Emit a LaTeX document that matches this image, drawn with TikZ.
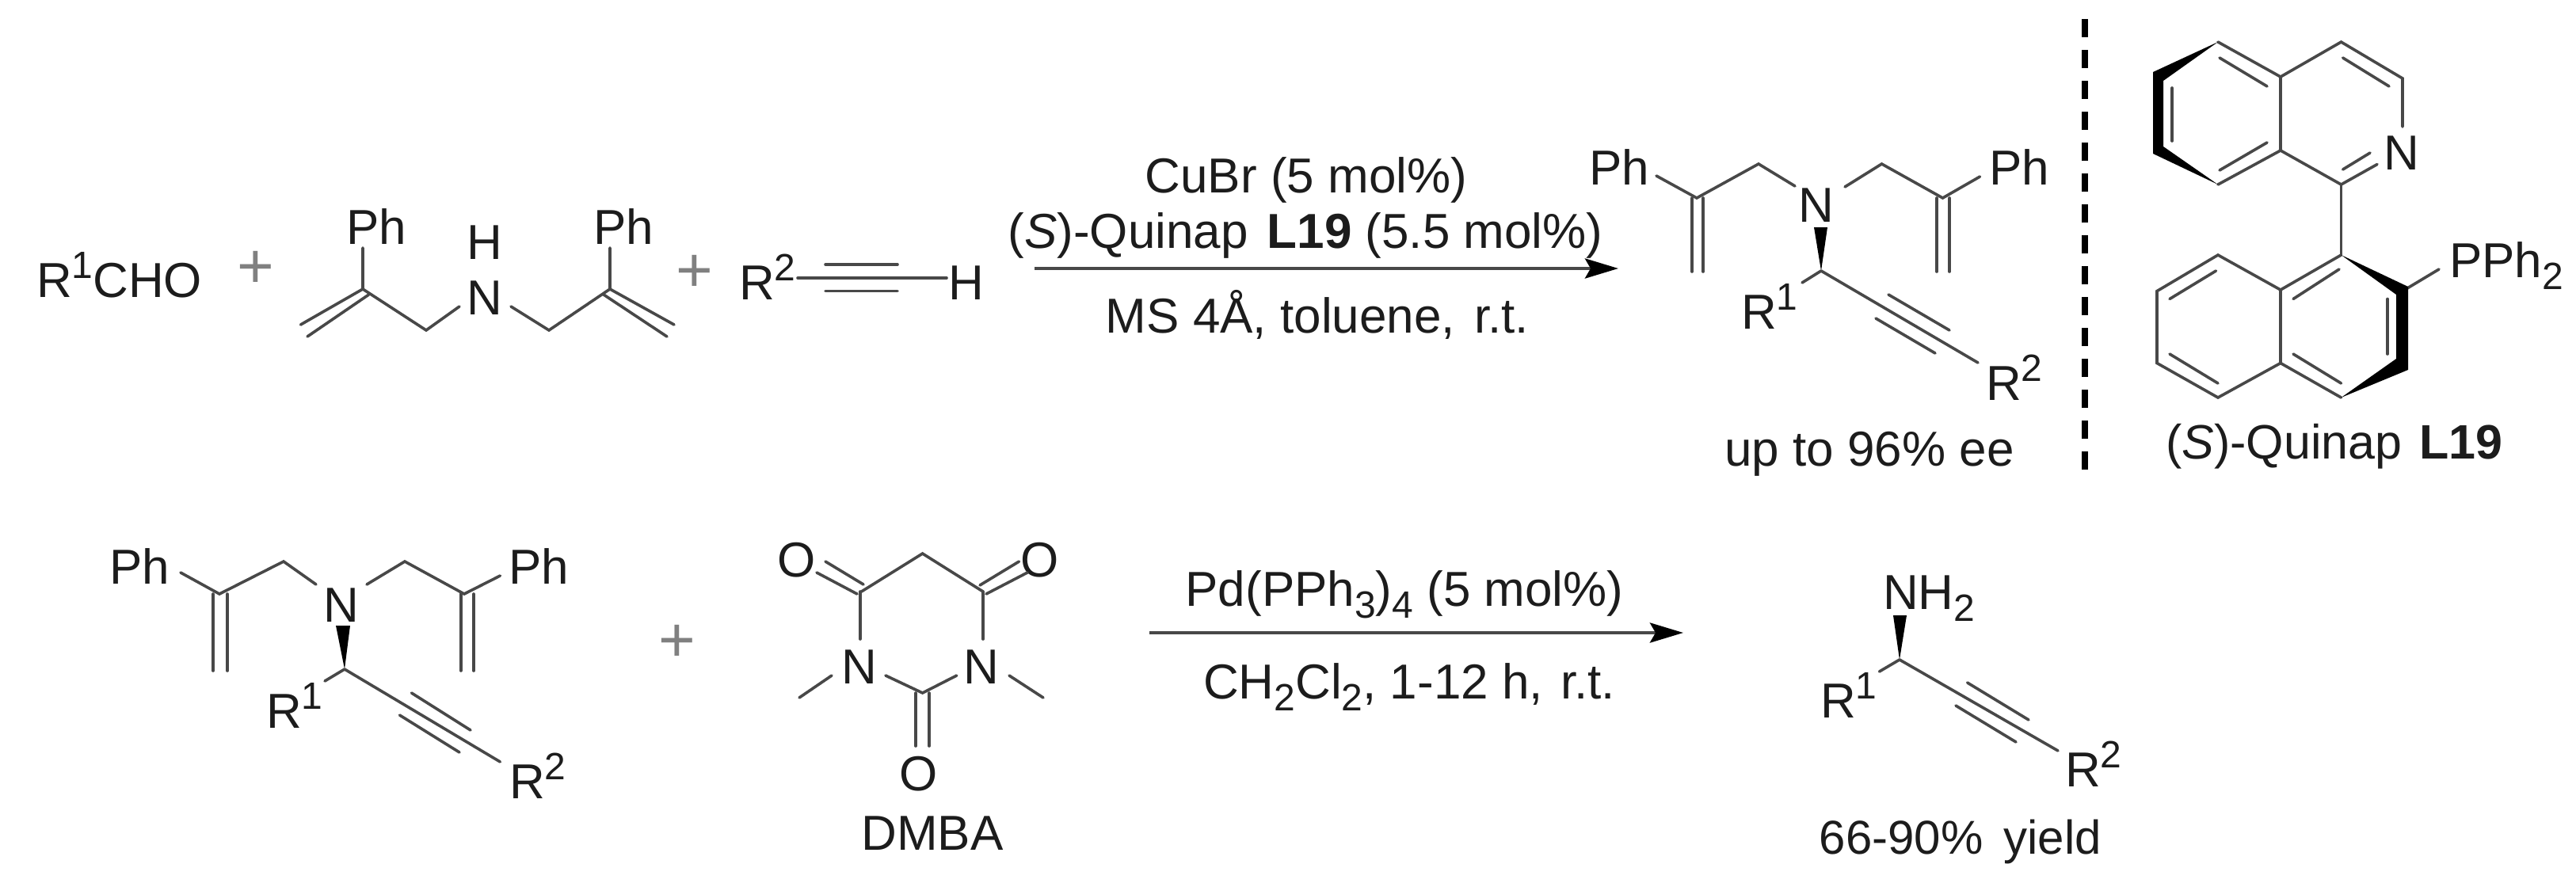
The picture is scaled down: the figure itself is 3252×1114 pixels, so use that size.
\documentclass[tikz,border=0pt]{standalone}
\usepackage{fontspec}
\setmainfont{Liberation Sans}
\usetikzlibrary{arrows.meta}
\definecolor{ink}{HTML}{1C1C1C}
\definecolor{bondc}{HTML}{484848}
\definecolor{plusc}{HTML}{808080}
\newcommand{\upa}[1]{\raisebox{24pt}{\fontsize{48}{48}\selectfont #1}}
\newcommand{\dwn}[1]{\raisebox{-15pt}{\fontsize{48}{48}\selectfont #1}}
\tikzset{
  lbl/.style={anchor=base,inner sep=0pt,outer sep=0pt,text=ink,font=\fontsize{62}{70}\selectfont},
  lblw/.style={lbl,anchor=base west},
  cond/.style={lbl,font=\fontsize{61}{70}\selectfont},
  yld/.style={lbl,font=\fontsize{60}{70}\selectfont},
  pls/.style={anchor=center,inner sep=0pt,text=plusc,font=\fontsize{80}{80}\selectfont},
  bond/.style={draw=bondc,line width=3.6pt,line cap=round,line join=miter},
  wedgefill/.style={fill=black,draw=none},
  rxn/.style={draw=bondc,line width=4.5pt,-{Stealth[length=42pt,width=25pt,inset=7pt,color=black]}},
  sep/.style={draw=black,line width=8pt,dash pattern=on 23pt off 16pt}
}
\begin{document}
\begin{tikzpicture}[x=1pt,y=-1pt]
\useasboundingbox (0,0) rectangle (3252,1114);
\fill[white] (0,0) rectangle (3252,1114);
% ---------- named points
\foreach \n/\x/\y in {
 a1/458/313,a2/458/365,a3/538/417,a4/580/387,a5/645/387,a6/693/417,a7/770/365,a8/770/313,
 a9/379.5/410,a10/465.6/372,a11/388/425,a12/851/410,a13/762/372,a14/842/425,
 t1/1007/351,t2/1195/351,t3/1042/334,t4/1133/334,t5/1042/367.5,t6/1133/367.5,
 ar1s/1306/339,ar1e/2043/339,ar2s/1451/799,ar2e/2125/799,
 b1/2091/222,b2/2142/250,b3/2220/207,b4/2266/235,b5/2329/236,b6/2375.5/207,b7/2452.5/250,b8/2499.5/223,
 b9/2136/250,b10/2136/343,b11/2150/250,b12/2150/343,b13/2445/250,b14/2445/343,b15/2461/250,b16/2461/343,
 b17/2299/342,b18/2275/357,b19/2497/458,b20/2384/372,b21/2461/417,b22/2368/402,b23/2443/446,b24/2290/287,b25/2307/287,
 sp1/2632/24,sp2/2632/597,
 q1/2800/53,q2/2879/97,q3/2879/190,q4/2800/233,q5/2721/190,q6/2721/95,q7/2955.5/53,q8/3033/99,q9/3033/160,q10/2955.5/233,q11/3001/207.5,
 q12/2957.6/214,q13/2992/193,q14/2957.6/73,q15/3016/109,q16/2802/73,q17/2862/109,q18/2802/215,q19/2862/180,q20/2742/111,q21/2742/178,
 w1/2718/91,w2/2718/194,w3/2731/185,w4/2731/102,
 r1/2955.5/322,r2/2879/366,r3/2879/458.5,r4/2955.5/502,r5/2800/322,r6/2723/367.6,r7/2723/458.5,r8/2800/502,
 r9/3039/364,r10/3079/340,r11/2797.5/342,r12/2739/377.5,r13/2739/447,r14/2800/484,r15/2953/340,r16/2895/377.5,r17/2895/447,r18/2955.5/484,r19/3014/377.5,r20/3014/447,
 v1/3040/362,v2/3040/467,v3/3025/453,v4/3025/372,
 e1/228/723,e2/277/750,e3/358/709,e4/399/738,e5/463/738,e6/511/709,e7/586/750,e8/631.4/727,
 e9/269/750,e10/269/847,e11/287/750,e12/287/847,e13/581.7/750,e14/581.7/847,e15/598/750,e16/598/847,
 e17/435/845,e18/410/860,e19/631.4/962,e20/519.5/875,e21/594/922,e22/504.5/903,e23/580/950,e24/424/790,e25/442/790,
 d1/1087.5/747,d2/1164.6/699,d3/1241/747,d4/1042/709,d5/1090/738,d6/1031/723,d7/1082/750,d8/1286.5/709,d9/1237/739,d10/1297/723,d11/1245/750,
 d12/1085.8/747,d13/1085.8/807,d14/1241/807,d15/1050/853,d16/1009/881,d17/1274/853,d18/1317/881,d19/1118/853,d20/1164.6/875,d21/1207.7/853,
 d22/1156/875,d23/1156/942,d24/1173/875,d25/1173/942,
 f1/2398/833,f2/2372.5/848,f3/2598/948,f4/2483.6/862,f5/2561/909,f6/2469/891,f7/2545/937,f8/2390/777,f9/2407/777
}{\coordinate (\n) at (\x,\y);}
% ---------- first reaction, left side
\node[lblw] (aldehyde) at (46,375) {R\upa{1}CHO};
\node[pls] (plusa) at (323,340) {+};
\node[lbl] (phone) at (475,308) {Ph};
\node[lbl] (nha) at (612,397) {N};
\node[lbl] (hhalf) at (612,327) {H};
\node[lbl] (phtwo) at (787,308) {Ph};
\draw[bond] (a1)--(a2)--(a3)--(a4);
\draw[bond] (a5)--(a6)--(a7)--(a8);
\draw[bond] (a2)--(a9);
\draw[bond] (a10)--(a11);
\draw[bond] (a7)--(a12);
\draw[bond] (a13)--(a14);
\node[pls] (plusb) at (877,345) {+};
\node[lblw] (rtwo) at (933,378) {R\upa{2}};
\draw[bond] (t1)--(t2);
\draw[bond] (t3)--(t4);
\draw[bond] (t5)--(t6);
\node[lbl] (hend) at (1219.5,378) {H};
% ---------- first arrow
\node[lbl] (cua) at (1649,243) {CuBr (5 mol\%)};
\node[lbl] (cub) at (1648,313) {(\textit{S})-Quinap\hspace{24pt}\textbf{L19} (5.5 mol\%)};
\node[lbl] (cuc) at (1663,420) {MS 4Å, toluene,\hspace{24pt}r.t.};
\draw[rxn] (ar1s)--(ar1e);
% ---------- first product
\node[lbl] (pha) at (2044,233) {Ph};
\node[lbl] (nb) at (2293,280) {N};
\node[lbl] (phb) at (2549,233) {Ph};
\draw[bond] (b1)--(b2)--(b3)--(b4);
\draw[bond] (b5)--(b6)--(b7)--(b8);
\draw[bond] (b9)--(b10);
\draw[bond] (b11)--(b12);
\draw[bond] (b13)--(b14);
\draw[bond] (b15)--(b16);
\fill[wedgefill] (b17)--(b24)--(b25)--cycle;
\draw[bond] (b17)--(b18);
\draw[bond] (b17)--(b19);
\draw[bond] (b20)--(b21);
\draw[bond] (b22)--(b23);
\node[lblw] (rb) at (2198,415) {R\upa{1}};
\node[lblw] (rc) at (2507,505) {R\upa{2}};
\node[lbl] (ee) at (2360,588) {up to 96\% ee};
% ---------- separator
\draw[sep] (sp1)--(sp2);
% ---------- Quinap
\draw[bond] (q1)--(q2)--(q3)--(q4);
\draw[bond] (q2)--(q7)--(q8)--(q9);
\draw[bond] (q3)--(q10)--(q11);
\draw[bond] (q12)--(q13);
\draw[bond] (q14)--(q15);
\draw[bond] (q16)--(q17);
\draw[bond] (q18)--(q19);
\draw[bond] (q20)--(q21);
\fill[wedgefill] (q1)--(w1)--(w2)--(q4)--(w3)--(w4)--cycle;
\node[lbl] (nq) at (3031.5,214) {N};
\draw[bond] (q10)--(r1);
\draw[bond] (r1)--(r2)--(r3)--(r4);
\draw[bond] (r2)--(r5)--(r6)--(r7)--(r8)--(r3);
\draw[bond] (r9)--(r10);
\draw[bond] (r11)--(r12);
\draw[bond] (r13)--(r14);
\draw[bond] (r15)--(r16);
\draw[bond] (r17)--(r18);
\draw[bond] (r19)--(r20);
\fill[wedgefill] (r1)--(v1)--(v2)--(r4)--(v3)--(v4)--cycle;
\node[lblw] (pph) at (3092,350) {PPh\dwn{2}};
\node[cond] (quinap) at (2947,579) {(\textit{S})-Quinap\hspace{22pt}\textbf{L19}};
% ---------- second reaction, left
\node[lbl] (phc) at (176,737) {Ph};
\node[lbl] (nc) at (431,785) {N};
\node[lbl] (phd) at (680,737) {Ph};
\draw[bond] (e1)--(e2)--(e3)--(e4);
\draw[bond] (e5)--(e6)--(e7)--(e8);
\draw[bond] (e9)--(e10);
\draw[bond] (e11)--(e12);
\draw[bond] (e13)--(e14);
\draw[bond] (e15)--(e16);
\fill[wedgefill] (e17)--(e24)--(e25)--cycle;
\draw[bond] (e17)--(e18);
\draw[bond] (e17)--(e19);
\draw[bond] (e20)--(e21);
\draw[bond] (e22)--(e23);
\node[lblw] (rd) at (336,919) {R\upa{1}};
\node[lblw] (re) at (643,1008) {R\upa{2}};
\node[pls] (plusc) at (855,812) {+};
% ---------- DMBA
\node[lbl] (oa) at (1006,728) {O};
\node[lbl] (ob) at (1313,728) {O};
\node[lbl] (na) at (1085,863) {N};
\node[lbl] (nd) at (1239,863) {N};
\node[lbl] (oc) at (1160,998) {O};
\draw[bond] (d1)--(d2)--(d3);
\draw[bond] (d4)--(d5);
\draw[bond] (d6)--(d7);
\draw[bond] (d8)--(d9);
\draw[bond] (d10)--(d11);
\draw[bond] (d12)--(d13);
\draw[bond] (d3)--(d14);
\draw[bond] (d15)--(d16);
\draw[bond] (d17)--(d18);
\draw[bond] (d19)--(d20)--(d21);
\draw[bond] (d22)--(d23);
\draw[bond] (d24)--(d25);
\node[lbl] (dmba) at (1177,1073) {DMBA};
% ---------- second arrow
\node[lbl] (pda) at (1773,765) {Pd(PPh\dwn{3})\dwn{4} (5 mol\%)};
\node[lbl] (pdb) at (1779,882) {CH\dwn{2}Cl\dwn{2}, 1-12 h,\hspace{22pt}r.t.};
\draw[rxn] (ar2s)--(ar2e);
% ---------- second product
\node[lblw] (nh) at (2377,769) {NH\dwn{2}};
\fill[wedgefill] (f1)--(f8)--(f9)--cycle;
\draw[bond] (f1)--(f2);
\draw[bond] (f1)--(f3);
\draw[bond] (f4)--(f5);
\draw[bond] (f6)--(f7);
\node[lblw] (rf) at (2298,906) {R\upa{1}};
\node[lblw] (rg) at (2607,993) {R\upa{2}};
\node[yld] (yield) at (2475,1078) {66-90\%\hspace{26pt}yield};
\end{tikzpicture}
\end{document}
